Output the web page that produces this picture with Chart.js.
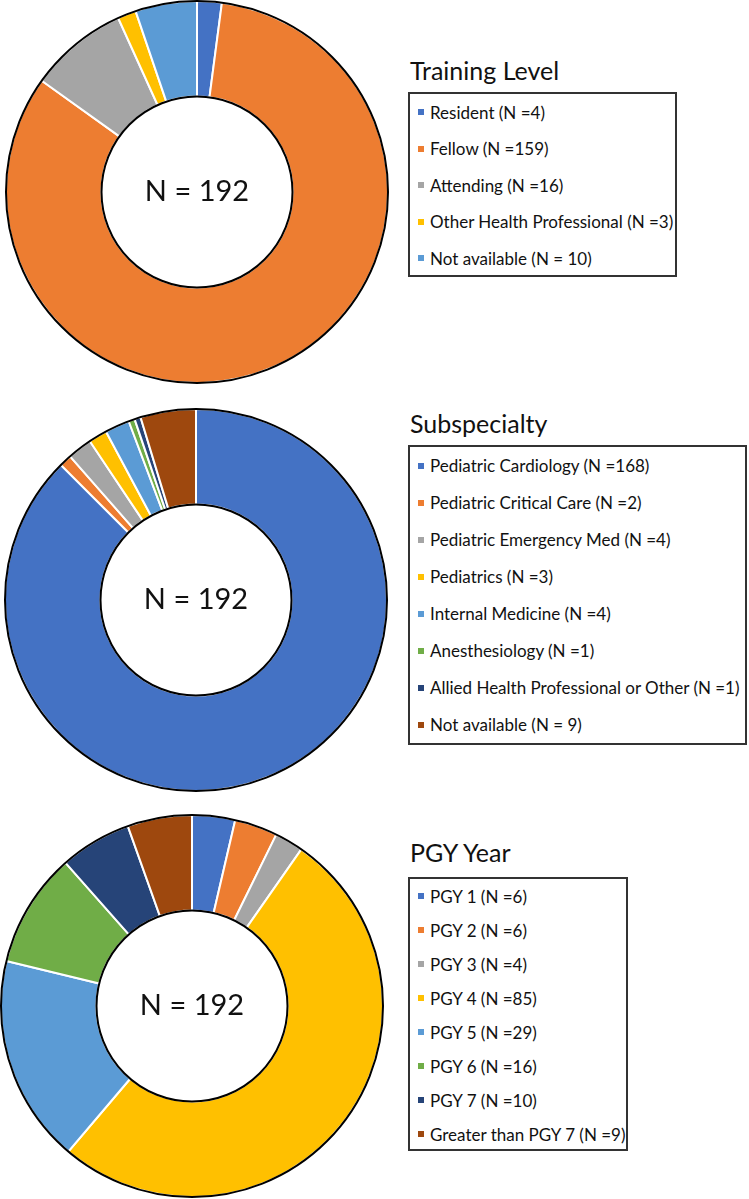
<!DOCTYPE html>
<html>
<head>
<meta charset="utf-8">
<script src="https://cdn.jsdelivr.net/npm/chart.js@4/dist/chart.umd.min.js"></script>
<style>
  body { margin: 0; background: #fff; font-family: Lato, "Open Sans", sans-serif; color: #111; }
  #page { position: relative; width: 749px; height: 1199px; overflow: hidden; }
  canvas { position: absolute; }
  .ttl { position: absolute; left: 410px; font-size: 25px; line-height: 30px; white-space: nowrap; }
  .box { position: absolute; left: 408px; box-sizing: border-box; border: 2px solid #333; }
  .row { position: relative; font-size: 17px; white-space: nowrap; display: flex; align-items: center; }
  .sw { display: inline-block; width: 6px; height: 6px; margin-left: 8px; margin-right: 6px; }
</style>
</head>
<body>
<div id="page">
  <canvas id="c1" width="384" height="384" style="left:5px;top:0px"></canvas>
  <canvas id="c2" width="384" height="384" style="left:4px;top:408px"></canvas>
  <canvas id="c3" width="384" height="384" style="left:0px;top:814px"></canvas>

  <div class="ttl" style="top:55px">Training Level</div>
  <div class="box" id="lg1" style="top:92px;width:269px;height:185px"></div>

  <div class="ttl" style="top:408px">Subspecialty</div>
  <div class="box" id="lg2" style="top:445px;width:339px;height:300px"></div>

  <div class="ttl" style="top:837px">PGY Year</div>
  <div class="box" id="lg3" style="top:877px;width:220px;height:274px"></div>
</div>
<script>
// office palette
const palette = ['#4472C4', '#ED7D31', '#A5A5A5', '#FFC000', '#5B9BD5', '#70AD47', '#264478', '#9E480E'];

const trainingLabels = ['Resident (N =4)', 'Fellow (N =159)', 'Attending (N =16)', 'Other Health Professional (N =3)', 'Not available (N = 10)'];
const trainingValues = [4, 159, 16, 3, 10];

const subLabels = ['Pediatric Cardiology (N =168)', 'Pediatric Critical Care (N =2)', 'Pediatric Emergency Med (N =4)', 'Pediatrics (N =3)', 'Internal Medicine (N =4)', 'Anesthesiology (N =1)', 'Allied Health Professional or Other (N =1)', 'Not available (N = 9)'];
const subValues = [168, 2, 4, 3, 4, 1, 1, 9];

const pgyLabels = ['PGY 1 (N =6)', 'PGY 2 (N =6)', 'PGY 3 (N =4)', 'PGY 4 (N =85)', 'PGY 5 (N =29)', 'PGY 6 (N =16)', 'PGY 7 (N =10)', 'Greater than PGY 7 (N =9)'];
const pgyValues = [6, 6, 4, 85, 29, 16, 10, 9];

const centerText = 'N = 192';

// black rings round the doughnut + the N in the hole
const ringOutline = {
  id: 'ringOutline',
  afterDatasetsDraw(chart, args, opts) {
    const arc = chart.getDatasetMeta(0).data[0];
    const p = arc.getProps(['x', 'y', 'innerRadius', 'outerRadius'], true);
    const ctx = chart.ctx;
    ctx.save();
    ctx.strokeStyle = '#000';
    ctx.lineWidth = 2;
    ctx.beginPath(); ctx.arc(p.x, p.y, p.outerRadius, 0, Math.PI * 2); ctx.stroke();
    ctx.beginPath(); ctx.arc(p.x, p.y, p.innerRadius, 0, Math.PI * 2); ctx.stroke();
    ctx.fillStyle = '#111';
    ctx.font = '29px Lato';
    ctx.textAlign = 'center';
    ctx.textBaseline = 'middle';
    ctx.fillText(opts.text, p.x, p.y);
    ctx.restore();
  }
};

function makeDonut(id, labels, values) {
  return new Chart(document.getElementById(id), {
    type: 'doughnut',
    data: {
      labels: labels,
      datasets: [{
        data: values,
        backgroundColor: palette.slice(0, values.length),
        borderColor: '#fff',
        borderWidth: 2
      }]
    },
    options: {
      responsive: false,
      animation: false,
      cutout: '50%',
      layout: { padding: 0 },
      plugins: {
        legend: { display: false },
        tooltip: { enabled: false },
        ringOutline: { text: centerText }
      }
    },
    plugins: [ringOutline]
  });
}

function makeLegend(id, labels, rowH) {
  const box = document.getElementById(id);
  labels.forEach(function (lab, i) {
    const row = document.createElement('div');
    row.className = 'row';
    row.style.height = rowH + 'px';
    const sw = document.createElement('span');
    sw.className = 'sw';
    sw.style.background = palette[i];
    const tx = document.createElement('span');
    tx.textContent = lab;
    row.appendChild(sw);
    row.appendChild(tx);
    box.appendChild(row);
  });
}

makeDonut('c1', trainingLabels, trainingValues);
makeDonut('c2', subLabels, subValues);
makeDonut('c3', pgyLabels, pgyValues);

makeLegend('lg1', trainingLabels, 36.5);
makeLegend('lg2', subLabels, 37);
makeLegend('lg3', pgyLabels, 34);
</script>
</body>
</html>
